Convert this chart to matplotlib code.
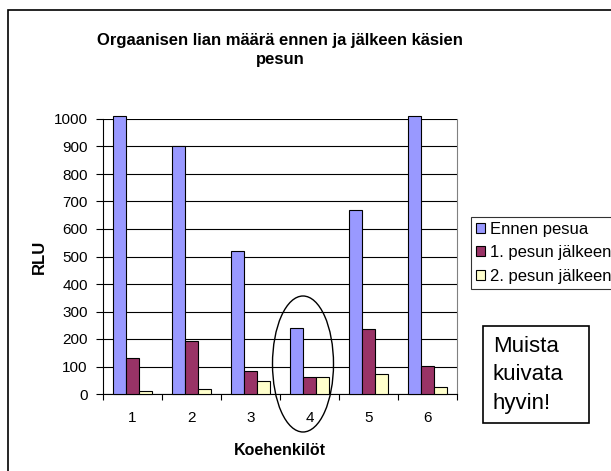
import numpy as np
import matplotlib.pyplot as plt
from matplotlib.patches import Rectangle, Ellipse

plt.rcParams['font.family'] = ['Liberation Sans', 'DejaVu Sans']

# data (group 1 and 6 "before" bars go past the 1000 limit)
koehenkilot = ['1', '2', '3', '4', '5', '6']
ennen = [1010, 900, 520, 241, 669, 1010]
pesu1 = [130, 192, 85, 62, 238, 103]
pesu2 = [10, 19, 47, 62, 72, 24]
sarjat = ['Ennen pesua', '1. pesun jälkeen', '2. pesun jälkeen']
varit = ['#9999FF', '#993366', '#FFFFCC']

W, H = 611, 471
fig = plt.figure(figsize=(W / 100, H / 100), dpi=100)

# outer chart frame (cut off at right and bottom like in the original)
fig.patches.append(Rectangle((8 / W, -0.05), 1.2, 1.05 - 10 / H, transform=fig.transFigure,
                             fill=False, edgecolor='black', linewidth=1.2))

ax = fig.add_axes([103 / W, 1 - 394 / H, (457 - 103) / W, (394 - 119) / H])

x = np.arange(len(koehenkilot))
w = 0.225
for i, (arvot, nimi, vari) in enumerate(zip([ennen, pesu1, pesu2], sarjat, varit)):
    ax.bar(x + (i - 1) * w, arvot, w, color=vari, edgecolor='black', linewidth=0.8,
           label=nimi, clip_on=False, zorder=3)

ax.set_xlim(-0.5, len(koehenkilot) - 0.5)
ax.set_ylim(0, 1000)
ax.set_yticks(np.arange(0, 1001, 100))
ax.yaxis.grid(True, color='black', linewidth=0.8)
ax.set_axisbelow(True)

ax.set_xticks(x)
ax.set_xticklabels(koehenkilot, fontsize=11)
ax.set_xticks(np.arange(-0.5, len(koehenkilot)), minor=True)
ax.tick_params(axis='x', which='major', length=0, pad=12)
ax.tick_params(axis='x', which='minor', length=4, width=0.8, direction='out')
ax.tick_params(axis='y', length=5, width=0.8, labelsize=11, pad=6)

ax.spines['top'].set_visible(False)
ax.spines['right'].set_color('#808080')
ax.spines['left'].set_linewidth(0.8)
ax.spines['bottom'].set_linewidth(0.8)

ax.set_xlabel('Koehenkilöt', fontsize=11.5, fontweight='bold', labelpad=13)
ax.set_ylabel('RLU', fontsize=12, fontweight='bold', labelpad=5)

fig.text(280 / W, 1 - 50 / H, 'Orgaanisen lian määrä ennen ja jälkeen käsien\npesun',
         ha='center', va='center', fontsize=12, fontweight='bold', linespacing=1.3)

leg = fig.legend(loc='upper left', bbox_to_anchor=(471 / W, 1 - 217 / H), fontsize=12,
                 frameon=True, fancybox=False, edgecolor='black', borderpad=0.3,
                 handlelength=0.55, handleheight=0.55, handletextpad=0.3, labelspacing=0.5,
                 borderaxespad=0)
leg.get_frame().set_linewidth(0.8)

# circle around test person 4
ax_el = Ellipse((303 / W, 1 - 364 / H), 61 / W, 136 / H, transform=fig.transFigure,
                fill=False, edgecolor='black', linewidth=1)
fig.patches.append(ax_el)

fig.patches.append(Rectangle((483 / W, 1 - 423 / H), (589 - 483) / W, (423 - 326) / H,
                             transform=fig.transFigure, fill=False, edgecolor='black',
                             linewidth=1.2))
fig.text(493 / W, 1 - 375 / H, 'Muista\nkuivata\nhyvin!', ha='left', va='center',
         fontsize=16, linespacing=1.45)

fig.savefig('out.png', dpi=100)
